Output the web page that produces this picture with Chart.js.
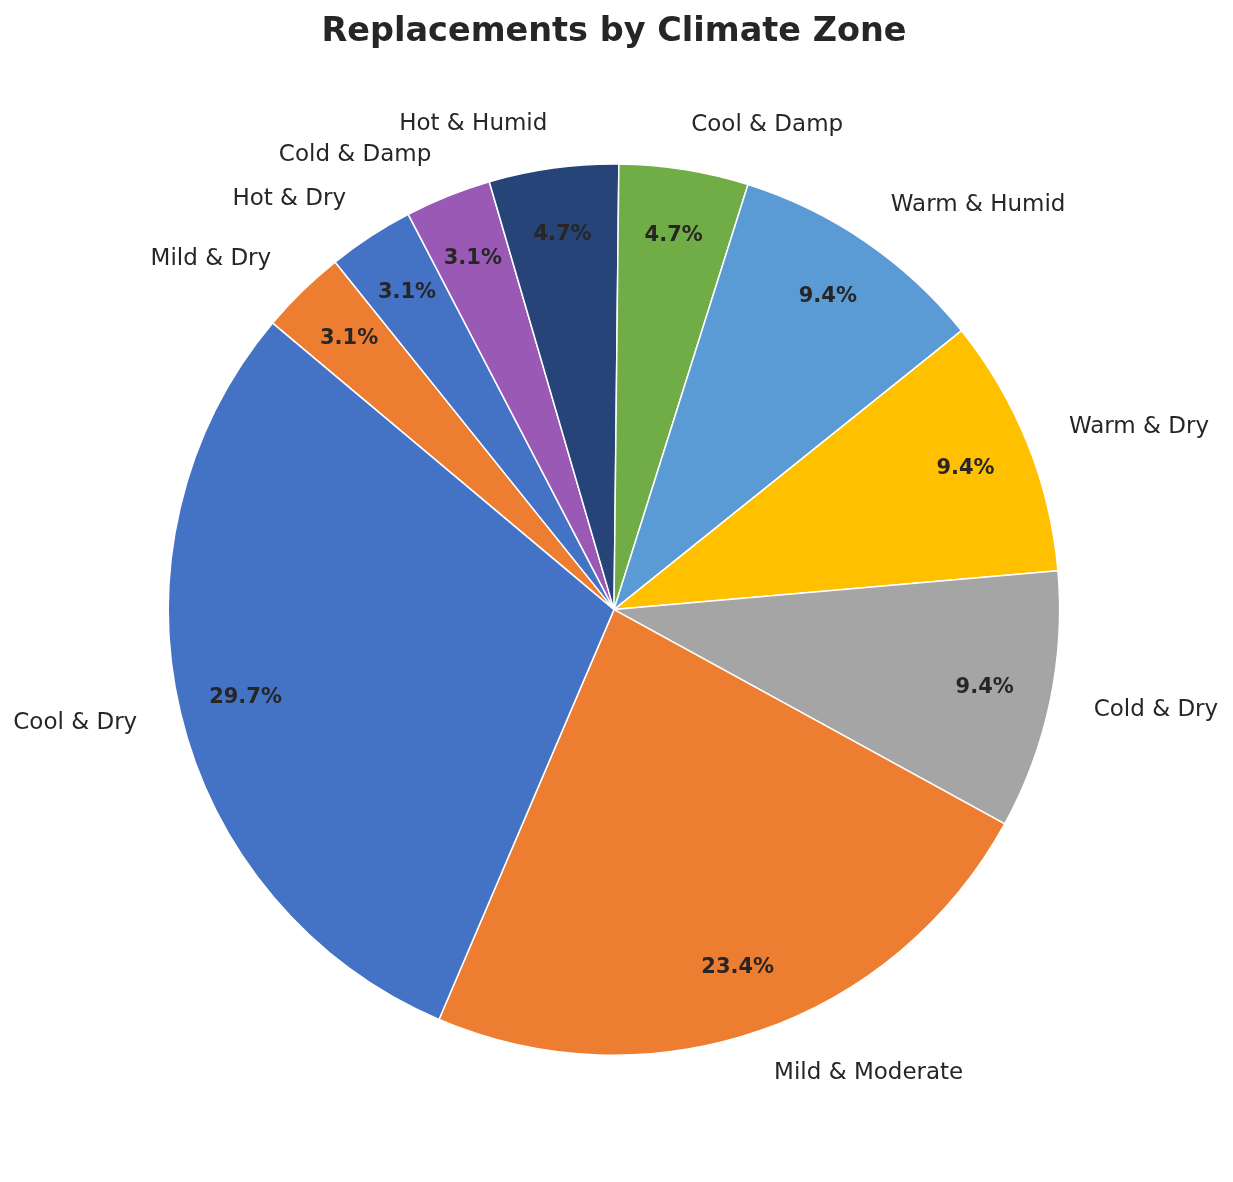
<!DOCTYPE html>
<html>
<head>
<meta charset="utf-8">
<script src="https://cdn.jsdelivr.net/npm/chart.js@4/dist/chart.umd.min.js"></script>
<style>
  html, body { margin: 0; padding: 0; background: #fff; }
  #wrap { width: 1233px; height: 1182px; }
</style>
</head>
<body>
<div id="wrap"><canvas id="pie-chart"></canvas></div>
<script>
// Data (counts, in matplotlib counter-clockwise order)
const zones = ['Cool & Dry', 'Mild & Moderate', 'Cold & Dry', 'Warm & Dry', 'Warm & Humid',
  'Cool & Damp', 'Hot & Humid', 'Cold & Damp', 'Hot & Dry', 'Mild & Dry'];
const replacements = [19, 15, 6, 6, 6, 3, 3, 2, 2, 2];
const sliceColors = ['#4472C4', '#ED7D31', '#A5A5A5', '#FFC000', '#5B9BD5',
  '#70AD47', '#264478', '#9B59B6', '#4472C4', '#ED7D31'];

// Chart.js draws clockwise, so reverse the order
const labels = [...zones].reverse();
const values = [...replacements].reverse();
const colors = [...sliceColors].reverse();
const total = values.reduce((a, b) => a + b, 0);

const textColor = '#262626';
const fontFamily = '"DejaVu Sans", sans-serif';

// Draw outside labels and percentages like matplotlib autopct
const pieLabels = {
  id: 'pieLabels',
  afterDatasetsDraw(chart) {
    const ctx = chart.ctx;
    const meta = chart.getDatasetMeta(0);
    ctx.save();
    meta.data.forEach((arc, i) => {
      const mid = (arc.startAngle + arc.endAngle) / 2;
      const r = arc.outerRadius;
      const cos = Math.cos(mid), sin = Math.sin(mid);

      // percentage
      ctx.font = 'bold 21px ' + fontFamily;
      ctx.fillStyle = textColor;
      ctx.textAlign = 'center';
      ctx.textBaseline = 'middle';
      const pct = (values[i] / total * 100).toFixed(1) + '%';
      ctx.fillText(pct, arc.x + cos * r * 0.85, arc.y + sin * r * 0.85);

      // category label
      ctx.font = '23px ' + fontFamily;
      ctx.textAlign = cos >= 0 ? 'left' : 'right';
      ctx.fillText(labels[i], arc.x + cos * r * 1.1, arc.y + sin * r * 1.1);
    });
    ctx.restore();
  }
};

const ctx1 = document.getElementById('pie-chart');
const pieChart = new Chart(ctx1, {
  type: 'pie',
  data: {
    labels: labels,
    datasets: [{
      data: values,
      backgroundColor: colors,
      borderColor: '#ffffff',
      borderWidth: 1.5
    }]
  },
  options: {
    responsive: true,
    maintainAspectRatio: false,
    animation: false,
    rotation: -50,
    layout: {
      padding: { left: 167, right: 172, top: 0, bottom: 126 }
    },
    plugins: {
      legend: { display: false },
      tooltip: { enabled: false },
      title: {
        display: true,
        text: 'Replacements by Climate Zone',
        color: textColor,
        font: { family: fontFamily, size: 33.5, weight: 'bold' },
        padding: { top: 12, bottom: 111 }
      }
    }
  },
  plugins: [pieLabels]
});
</script>
</body>
</html>
